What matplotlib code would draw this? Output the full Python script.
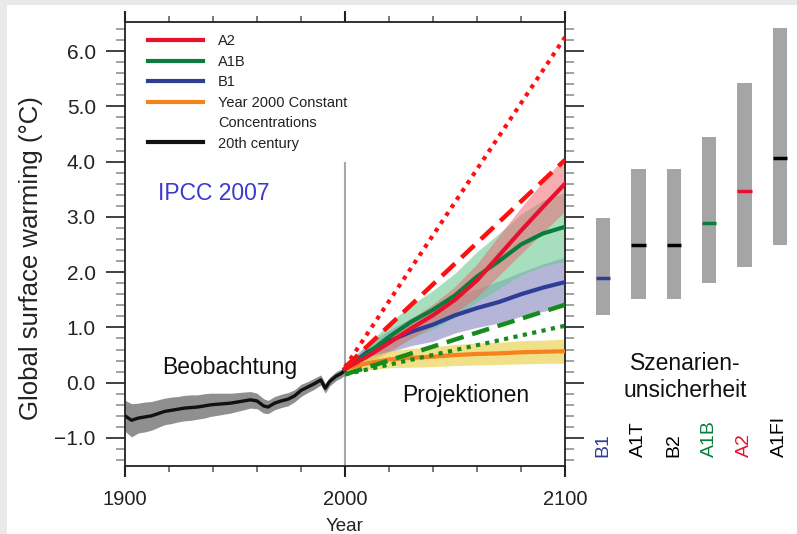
import matplotlib
matplotlib.use("Agg")
import matplotlib.pyplot as plt
import matplotlib.transforms as mtransforms
from matplotlib.lines import Line2D
from matplotlib.patches import Rectangle
from matplotlib.ticker import MultipleLocator
import numpy as np

plt.rcParams['font.family'] = ['Liberation Sans', 'DejaVu Sans']

# ---------------- data ----------------
obs_years = [1900, 1903, 1906, 1909, 1912, 1915, 1918, 1921, 1924, 1927, 1930, 1933,
             1936, 1939, 1942, 1945, 1948, 1951, 1954, 1957, 1960, 1963, 1965, 1968,
             1971, 1974, 1977, 1980, 1983, 1986, 1989, 1991, 1993, 1996, 1998, 2000]
obs_temp = [-0.60, -0.68, -0.64, -0.62, -0.60, -0.56, -0.52, -0.50, -0.48, -0.46, -0.45, -0.44,
            -0.42, -0.40, -0.39, -0.38, -0.37, -0.35, -0.33, -0.31, -0.33, -0.42, -0.44, -0.37,
            -0.33, -0.30, -0.24, -0.14, -0.08, -0.02, 0.05, -0.10, 0.02, 0.12, 0.16, 0.22]
obs_spread = [0.28, 0.30, 0.27, 0.27, 0.26, 0.25, 0.24, 0.24, 0.23, 0.23, 0.23, 0.22,
              0.22, 0.21, 0.20, 0.19, 0.18, 0.17, 0.16, 0.15, 0.14, 0.13, 0.12, 0.12,
              0.12, 0.12, 0.11, 0.11, 0.10, 0.10, 0.09, 0.09, 0.08, 0.08, 0.08, 0.08]

proj_years = [2000, 2010, 2020, 2030, 2040, 2050, 2060, 2070, 2080, 2090, 2100]
a2_mean = [0.25, 0.47, 0.72, 0.98, 1.22, 1.50, 1.85, 2.30, 2.75, 3.18, 3.60]
a2_spread = [0.05, 0.12, 0.16, 0.18, 0.20, 0.24, 0.30, 0.36, 0.42, 0.46, 0.50]
a1b_mean = [0.25, 0.52, 0.83, 1.10, 1.32, 1.58, 1.92, 2.20, 2.50, 2.70, 2.82]
a1b_spread = [0.05, 0.15, 0.25, 0.30, 0.35, 0.40, 0.45, 0.50, 0.55, 0.60, 0.62]
b1_mean = [0.25, 0.55, 0.75, 0.92, 1.05, 1.22, 1.35, 1.46, 1.60, 1.72, 1.82]
b1_spread = [0.05, 0.15, 0.20, 0.25, 0.30, 0.32, 0.35, 0.38, 0.40, 0.43, 0.45]
const_mean = [0.25, 0.35, 0.42, 0.45, 0.47, 0.50, 0.52, 0.53, 0.55, 0.56, 0.57]
const_spread = [0.05, 0.12, 0.15, 0.17, 0.18, 0.19, 0.20, 0.20, 0.21, 0.21, 0.22]

# straight range lines (start 2000, end 2100)
line_years = [2000, 2100]
a2_dotted = [0.28, 6.25]
a2_dashed = [0.28, 4.03]
a1b_dashed = [0.15, 1.41]
a1b_dotted = [0.15, 1.03]

# scenario uncertainty bars
scen_names = ["B1", "A1T", "B2", "A1B", "A2", "A1FI"]
scen_low = [1.1, 1.4, 1.4, 1.7, 2.0, 2.4]
scen_high = [2.9, 3.8, 3.8, 4.4, 5.4, 6.4]
scen_best = [1.8, 2.4, 2.4, 2.8, 3.4, 4.0]

# ---------------- colours ----------------
RED = '#e8112d'
GREEN = '#0a7d3e'
BLUE = '#2e3d96'
ORANGE = '#f5821f'
scen_colors = [BLUE, 'black', 'black', GREEN, RED, 'black']

W, H = 797, 534
fig = plt.figure(figsize=(W / 100, H / 100), dpi=100, facecolor='white')
# light grey frame strips (top and left)
fig.patches.append(Rectangle((0, (H - 5) / H), 1, 5 / H, transform=fig.transFigure,
                             facecolor='#e9e9e9', edgecolor='none', zorder=-10))
fig.patches.append(Rectangle((0, 0), 7 / W, 1, transform=fig.transFigure,
                             facecolor='#e9e9e9', edgecolor='none', zorder=-10))

ax_l, ax_r, ax_t, ax_b = 125, 565, 22, 466
ax = fig.add_axes([ax_l / W, (H - ax_b) / H, (ax_r - ax_l) / W, (ax_b - ax_t) / H])
ax.set_facecolor('white')
ax.set_xlim(1900, 2100)
ax.set_ylim(-1.507, 6.525)

# observations
oy = np.array(obs_years)
ot = np.array(obs_temp)
osp = np.array(obs_spread)
ax.fill_between(oy, ot - osp, ot + osp, color='#8f8f8f', lw=0, zorder=2)
ax.plot(oy, ot, color='#111111', lw=2.4, zorder=3, solid_joinstyle='round')

py = np.array(proj_years)
bands = [
    (b1_mean, b1_spread, '#9c9ccc', 0.75),
    (a1b_mean, a1b_spread, '#6cc894', 0.6),
    (a2_mean, a2_spread, '#ee6a74', 0.55),
    (const_mean, const_spread, '#ecd762', 0.75),
]
for m, s, c, a in bands:
    m = np.array(m); s = np.array(s)
    ax.fill_between(py, m - s, m + s, color=c, alpha=a, lw=0, zorder=2)

ax.plot(py, const_mean, color=ORANGE, lw=3, zorder=4)
ax.plot(py, b1_mean, color=BLUE, lw=3, zorder=4)
ax.plot(py, a1b_mean, color=GREEN, lw=3, zorder=4)
ax.plot(py, a2_mean, color=RED, lw=3, zorder=5)

ax.plot(line_years, a2_dotted, color='#ff1010', lw=3, ls=(0, (1, 1.3)), zorder=6)
ax.plot(line_years, a2_dashed, color='#ff1010', lw=3.2, ls=(0, (4, 2)), zorder=6)
ax.plot(line_years, a1b_dashed, color='#168a1c', lw=3.2, ls=(0, (4, 2)), zorder=6)
ax.plot(line_years, a1b_dotted, color='#168a1c', lw=3, ls=(0, (1, 1.3)), zorder=6)

ax.vlines(2000, -1.507, 4.0, color='#a8a8a8', lw=1.5, zorder=1)

# axes styling
for sp in ax.spines.values():
    sp.set_linewidth(1.3)
    sp.set_color('#222222')
ax.xaxis.set_major_locator(MultipleLocator(100))
ax.xaxis.set_minor_locator(MultipleLocator(20))
ax.yaxis.set_major_locator(MultipleLocator(1.0))
ax.yaxis.set_minor_locator(MultipleLocator(0.2))
ax.tick_params(axis='y', which='both', direction='out', left=True, right=True)
ax.tick_params(axis='y', which='major', length=14, width=1.3, color='#333333',
               labelsize=15, pad=7, labelcolor='#222222')
ax.tick_params(axis='y', which='minor', length=6.5, width=1.1, color='#888888')
ax.tick_params(axis='x', which='both', direction='out', top=True, bottom=True)
ax.tick_params(axis='x', which='major', length=8, width=1.5, color='#222222',
               labelsize=14.5, pad=9, labelcolor='#222222')
ax.tick_params(axis='x', which='minor', length=4, width=1.1, color='#555555')
ax.set_yticks([-1, 0, 1, 2, 3, 4, 5, 6])
ax.set_yticklabels(['\u22121.0', '0.0', '1.0', '2.0', '3.0', '4.0', '5.0', '6.0'])
ax.set_xticks([1900, 2000, 2100])
ax.set_ylabel('Global surface warming (\u00b0C)', fontsize=18.5, color='#222222')
ax.yaxis.set_label_coords(-0.186, 0.468)
ax.set_xlabel('Year', fontsize=13.5, color='#222222', labelpad=7)

# legend
handles = [Line2D([], [], color=RED, lw=3),
           Line2D([], [], color=GREEN, lw=3),
           Line2D([], [], color=BLUE, lw=3),
           Line2D([], [], color=ORANGE, lw=3),
           Line2D([], [], color='none', lw=3),
           Line2D([], [], color='#111111', lw=3)]
labels = ['A2', 'A1B', 'B1', 'Year 2000 Constant', 'Concentrations', '20th century']
leg = ax.legend(handles, labels, loc='upper left', bbox_to_anchor=(0.052, 0.972),
                frameon=False, fontsize=10.5, handlelength=3.8, handletextpad=1.0,
                labelspacing=0.44, borderpad=0, borderaxespad=0)
for t in leg.get_texts():
    t.set_color('#222222')

ax.text(1915, 3.43, 'IPCC 2007', color='#3a3acc', fontsize=16.5, ha='left', va='center')
ax.text(1947.7, 0.27, 'Beobachtung', color='#111111', fontsize=16.5, ha='center', va='center')
ax.text(2055, -0.24, 'Projektionen', color='#111111', fontsize=16.5, ha='center', va='center')

# right panel
ax2 = fig.add_axes([585.5 / W, (H - ax_b) / H, 212 / W, (ax_b - ax_t) / H])
ax2.set_xlim(0, 6)
ax2.set_ylim(-1.68, 6.517)
ax2.axis('off')
xs = np.arange(len(scen_names)) + 0.5
lo = np.array(scen_low); hi = np.array(scen_high)
ax2.bar(xs, hi - lo, bottom=lo, width=0.4, color='#a5a5a5', edgecolor='none')
ax2.hlines(scen_best, xs - 0.2, xs + 0.2, colors=scen_colors, lw=2.5)
trans = mtransforms.blended_transform_factory(ax2.transData, ax2.transAxes)
for x, n, c in zip(xs, scen_names, scen_colors):
    ax2.text(x, 0.02, n, rotation=90, transform=trans, ha='center', va='bottom',
             color=c, fontsize=14)
ax2.text(2.82, -0.04, 'Szenarien-\nunsicherheit', ha='center', va='center',
         fontsize=16.5, color='#111111', linespacing=1.2)

fig.savefig('out.png', dpi=100, facecolor=fig.get_facecolor())
